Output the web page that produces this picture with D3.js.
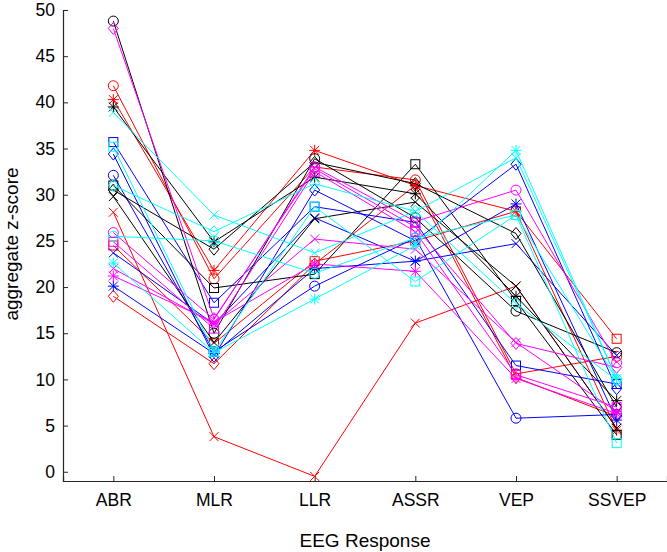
<!DOCTYPE html>
<html><head><meta charset="utf-8">
<script src="https://cdn.jsdelivr.net/npm/d3@7"></script>
<style>body{margin:0;background:#fff}text{font-family:"Liberation Sans",Arial,sans-serif}</style>
</head><body>
<svg id="c" width="667" height="552"></svg>
<script>
const categories = ["ABR","MLR","LLR","ASSR","VEP","SSVEP"];
const yTicks = [0,5,10,15,20,25,30,35,40,45,50];
const seriesColors = ["#ff0000","#ff0000","#ff0000","#ff0000","#ff0000",
  "#0000ff","#0000ff","#0000ff","#0000ff","#0000ff",
  "#000000","#000000","#000000","#000000","#000000",
  "#ff00ff","#ff00ff","#ff00ff","#ff00ff","#ff00ff",
  "#00ffff","#00ffff","#00ffff","#00ffff","#00ffff"];
const seriesMarkers = ["o","*","x","s","d","o","x","*","s","d","o","x","*","s","d","o","x","*","s","d","o","x","*","s","d"];
const seriesValues = [
  [41.8,20.9,33.0,31.6,10.6,12.5],
  [40.3,21.8,34.8,31.0,28.2,4.5],
  [28.1,3.8,-0.5,16.1,20.1,4.7],
  [24.5,13.9,22.8,25.0,28.2,14.4],
  [19.0,11.7,22.5,31.0,10.2,6.0],
  [32.1,13.0,20.1,25.3,5.8,6.2],
  [23.7,16.0,27.5,22.8,24.7,12.6],
  [20.1,12.8,22.0,22.8,29.0,5.6],
  [35.7,18.3,28.7,27.0,11.5,9.5],
  [34.4,12.5,30.5,25.0,33.3,9.0],
  [48.8,15.0,33.9,27.5,17.4,12.9],
  [29.8,14.0,27.4,29.2,20.1,4.7],
  [39.5,24.9,31.9,30.1,19.0,7.7],
  [31.0,19.9,21.4,33.3,18.5,4.0],
  [30.5,24.1,33.5,31.2,25.8,7.0],
  [25.9,16.5,33.0,27.1,30.5,11.8],
  [22.0,16.0,25.2,24.1,14.0,6.5],
  [21.2,16.2,22.5,21.7,10.1,6.3],
  [24.9,15.5,32.5,26.0,10.5,7.0],
  [48.0,16.6,32.8,26.5,13.9,11.3],
  [25.5,25.0,21.5,25.3,27.8,10.0],
  [38.9,27.8,23.7,28.2,34.0,10.1],
  [22.6,12.9,18.7,24.5,34.8,10.1],
  [35.2,13.0,28.7,20.6,27.8,3.1],
  [31.0,26.0,31.2,28.2,18.2,9.9]
];

const svg = d3.select("#c");
const x = d3.scaleLinear().domain([0.5,6.5]).range([63,667]);
const y = d3.scaleLinear().domain([-1,50]).range([481,10]);

const yAxis = d3.axisLeft(y).tickValues(yTicks).tickSize(-5).tickPadding(8).tickFormat(d3.format("d"));
const gy = svg.append("g").attr("transform","translate(63,0)").call(yAxis);
const xAxis = d3.axisBottom(x).tickValues(d3.range(1,7)).tickSize(-5).tickPadding(13).tickFormat(d=>categories[d-1]);
const gx = svg.append("g").attr("transform","translate(0,481)").call(xAxis);
[gx,gy].forEach(g=>{
  g.select(".domain").attr("stroke","#262626").attr("stroke-width",1.2);
  g.selectAll(".tick line").attr("stroke","#262626");
  g.selectAll("text").attr("font-size",17.5).attr("fill","#000").attr("font-family","Liberation Sans, Arial, sans-serif");
});

svg.append("text").attr("x",365).attr("y",547).attr("text-anchor","middle").attr("font-size",19).text("EEG Response");
svg.append("text").attr("transform","translate(18,244) rotate(-90)").attr("text-anchor","middle").attr("font-size",19).text("aggregate z-score");

const line = d3.line().x((d,i)=>x(i+1)).y(d=>y(d));
function marker(g, m, cx, cy, col){
  const s = 4.5;
  if(m==="o") g.append("circle").attr("cx",cx).attr("cy",cy).attr("r",5).attr("fill","none").attr("stroke",col);
  else if(m==="s") g.append("rect").attr("x",cx-4.5).attr("y",cy-4.5).attr("width",9).attr("height",9).attr("fill","none").attr("stroke",col);
  else if(m==="d") g.append("path").attr("d",`M${cx},${cy-6}L${cx+5},${cy}L${cx},${cy+6}L${cx-5},${cy}Z`).attr("fill","none").attr("stroke",col);
  else if(m==="x") g.append("path").attr("d",`M${cx-s},${cy-s}L${cx+s},${cy+s}M${cx-s},${cy+s}L${cx+s},${cy-s}`).attr("stroke",col);
  else if(m==="*") g.append("path").attr("d",`M${cx-s},${cy-s}L${cx+s},${cy+s}M${cx-s},${cy+s}L${cx+s},${cy-s}M${cx},${cy-5.5}L${cx},${cy+5.5}M${cx-5.5},${cy}L${cx+5.5},${cy}`).attr("stroke",col);
}
const plot = svg.append("g");
seriesValues.forEach((vals,k)=>{
  const col = seriesColors[k];
  const g = plot.append("g");
  g.append("path").datum(vals).attr("d",line).attr("fill","none").attr("stroke",col).attr("stroke-width",1);
  vals.forEach((v,i)=>marker(g, seriesMarkers[k], x(i+1), y(v), col));
});
</script>
</body></html>
